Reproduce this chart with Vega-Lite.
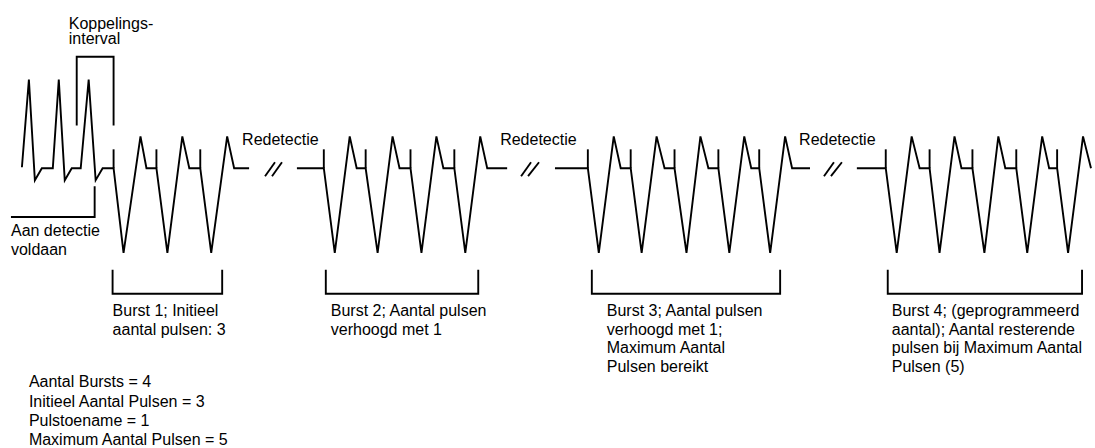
{
  "$schema": "https://vega.github.io/schema/vega-lite/v6.json",
  "width": 1095,
  "height": 448,
  "padding": 0,
  "autosize": {"type": "fit", "contains": "padding"},
  "background": "white",
  "config": {"view": {"stroke": null}},
  "datasets": {
    "lines": [
      {"s": "A", "i": 1, "x": 22, "y": 168}, {"s": "A", "i": 2, "x": 29, "y": 80}, {"s": "A", "i": 3, "x": 35, "y": 181}, {"s": "A", "i": 4, "x": 42, "y": 169},
      {"s": "A", "i": 5, "x": 53, "y": 169}, {"s": "A", "i": 6, "x": 59, "y": 80}, {"s": "A", "i": 7, "x": 65, "y": 181}, {"s": "A", "i": 8, "x": 72, "y": 169},
      {"s": "A", "i": 9, "x": 81, "y": 169}, {"s": "A", "i": 10, "x": 89, "y": 80}, {"s": "A", "i": 11, "x": 96, "y": 181}, {"s": "A", "i": 12, "x": 103, "y": 169},
      {"s": "A", "i": 13, "x": 114, "y": 169}, {"s": "A", "i": 14, "x": 124, "y": 254}, {"s": "A", "i": 15, "x": 141, "y": 137}, {"s": "A", "i": 16, "x": 147, "y": 169},
      {"s": "A", "i": 17, "x": 157, "y": 169}, {"s": "A", "i": 18, "x": 168, "y": 254}, {"s": "A", "i": 19, "x": 183, "y": 137}, {"s": "A", "i": 20, "x": 190, "y": 169},
      {"s": "A", "i": 21, "x": 201, "y": 169}, {"s": "A", "i": 22, "x": 212, "y": 254}, {"s": "A", "i": 23, "x": 228, "y": 137}, {"s": "A", "i": 24, "x": 235, "y": 169},
      {"s": "A", "i": 25, "x": 250, "y": 169},

      {"s": "B", "i": 1, "x": 298, "y": 169}, {"s": "B", "i": 2, "x": 325, "y": 169}, {"s": "B", "i": 3, "x": 336, "y": 254}, {"s": "B", "i": 4, "x": 351, "y": 137},
      {"s": "B", "i": 5, "x": 358, "y": 169}, {"s": "B", "i": 6, "x": 367, "y": 169}, {"s": "B", "i": 7, "x": 379, "y": 254}, {"s": "B", "i": 8, "x": 394, "y": 137},
      {"s": "B", "i": 9, "x": 401, "y": 169}, {"s": "B", "i": 10, "x": 412, "y": 169}, {"s": "B", "i": 11, "x": 423, "y": 254}, {"s": "B", "i": 12, "x": 438, "y": 137},
      {"s": "B", "i": 13, "x": 445, "y": 169}, {"s": "B", "i": 14, "x": 456, "y": 169}, {"s": "B", "i": 15, "x": 467, "y": 254}, {"s": "B", "i": 16, "x": 482, "y": 137},
      {"s": "B", "i": 17, "x": 489, "y": 169}, {"s": "B", "i": 18, "x": 509, "y": 169},

      {"s": "C", "i": 1, "x": 557, "y": 169}, {"s": "C", "i": 2, "x": 590, "y": 169}, {"s": "C", "i": 3, "x": 601, "y": 254}, {"s": "C", "i": 4, "x": 616, "y": 137},
      {"s": "C", "i": 5, "x": 623, "y": 169}, {"s": "C", "i": 6, "x": 633, "y": 169}, {"s": "C", "i": 7, "x": 644, "y": 254}, {"s": "C", "i": 8, "x": 659, "y": 137},
      {"s": "C", "i": 9, "x": 667, "y": 169}, {"s": "C", "i": 10, "x": 677, "y": 169}, {"s": "C", "i": 11, "x": 689, "y": 254}, {"s": "C", "i": 12, "x": 703, "y": 137},
      {"s": "C", "i": 13, "x": 711, "y": 169}, {"s": "C", "i": 14, "x": 721, "y": 169}, {"s": "C", "i": 15, "x": 732, "y": 254}, {"s": "C", "i": 16, "x": 747, "y": 137},
      {"s": "C", "i": 17, "x": 754, "y": 169}, {"s": "C", "i": 18, "x": 762, "y": 169}, {"s": "C", "i": 19, "x": 773, "y": 254}, {"s": "C", "i": 20, "x": 788, "y": 137},
      {"s": "C", "i": 21, "x": 795, "y": 169}, {"s": "C", "i": 22, "x": 813, "y": 169},

      {"s": "D", "i": 1, "x": 860, "y": 169}, {"s": "D", "i": 2, "x": 889, "y": 169}, {"s": "D", "i": 3, "x": 900, "y": 254}, {"s": "D", "i": 4, "x": 915, "y": 137},
      {"s": "D", "i": 5, "x": 923, "y": 169}, {"s": "D", "i": 6, "x": 933, "y": 169}, {"s": "D", "i": 7, "x": 943, "y": 254}, {"s": "D", "i": 8, "x": 958, "y": 137},
      {"s": "D", "i": 9, "x": 965, "y": 169}, {"s": "D", "i": 10, "x": 976, "y": 169}, {"s": "D", "i": 11, "x": 988, "y": 254}, {"s": "D", "i": 12, "x": 1002, "y": 137},
      {"s": "D", "i": 13, "x": 1009, "y": 169}, {"s": "D", "i": 14, "x": 1020, "y": 169}, {"s": "D", "i": 15, "x": 1031, "y": 254}, {"s": "D", "i": 16, "x": 1046, "y": 137},
      {"s": "D", "i": 17, "x": 1053, "y": 169}, {"s": "D", "i": 18, "x": 1061, "y": 169}, {"s": "D", "i": 19, "x": 1072, "y": 254}, {"s": "D", "i": 20, "x": 1087, "y": 137},
      {"s": "D", "i": 21, "x": 1095, "y": 169},

      {"s": "k1", "i": 1, "x": 114, "y": 150}, {"s": "k1", "i": 2, "x": 114, "y": 169},
      {"s": "k2", "i": 1, "x": 157, "y": 150}, {"s": "k2", "i": 2, "x": 157, "y": 169},
      {"s": "k3", "i": 1, "x": 201, "y": 150}, {"s": "k3", "i": 2, "x": 201, "y": 169},
      {"s": "k4", "i": 1, "x": 325, "y": 150}, {"s": "k4", "i": 2, "x": 325, "y": 169},
      {"s": "k5", "i": 1, "x": 367, "y": 150}, {"s": "k5", "i": 2, "x": 367, "y": 169},
      {"s": "k6", "i": 1, "x": 412, "y": 150}, {"s": "k6", "i": 2, "x": 412, "y": 169},
      {"s": "k7", "i": 1, "x": 456, "y": 150}, {"s": "k7", "i": 2, "x": 456, "y": 169},
      {"s": "k8", "i": 1, "x": 590, "y": 150}, {"s": "k8", "i": 2, "x": 590, "y": 169},
      {"s": "k9", "i": 1, "x": 633, "y": 150}, {"s": "k9", "i": 2, "x": 633, "y": 169},
      {"s": "k10", "i": 1, "x": 677, "y": 150}, {"s": "k10", "i": 2, "x": 677, "y": 169},
      {"s": "k11", "i": 1, "x": 721, "y": 150}, {"s": "k11", "i": 2, "x": 721, "y": 169},
      {"s": "k12", "i": 1, "x": 762, "y": 150}, {"s": "k12", "i": 2, "x": 762, "y": 169},
      {"s": "k13", "i": 1, "x": 889, "y": 150}, {"s": "k13", "i": 2, "x": 889, "y": 169},
      {"s": "k14", "i": 1, "x": 933, "y": 150}, {"s": "k14", "i": 2, "x": 933, "y": 169},
      {"s": "k15", "i": 1, "x": 976, "y": 150}, {"s": "k15", "i": 2, "x": 976, "y": 169},
      {"s": "k16", "i": 1, "x": 1020, "y": 150}, {"s": "k16", "i": 2, "x": 1020, "y": 169},
      {"s": "k17", "i": 1, "x": 1061, "y": 150}, {"s": "k17", "i": 2, "x": 1061, "y": 169},

      {"s": "z1a", "i": 1, "x": 266, "y": 177}, {"s": "z1a", "i": 2, "x": 276, "y": 163},
      {"s": "z1b", "i": 1, "x": 273, "y": 177}, {"s": "z1b", "i": 2, "x": 283, "y": 163},
      {"s": "z2a", "i": 1, "x": 523, "y": 177}, {"s": "z2a", "i": 2, "x": 533, "y": 163},
      {"s": "z2b", "i": 1, "x": 530, "y": 177}, {"s": "z2b", "i": 2, "x": 541, "y": 163},
      {"s": "z3a", "i": 1, "x": 827, "y": 177}, {"s": "z3a", "i": 2, "x": 837, "y": 163},
      {"s": "z3b", "i": 1, "x": 834, "y": 177}, {"s": "z3b", "i": 2, "x": 845, "y": 163},

      {"s": "br0", "i": 1, "x": 77, "y": 126}, {"s": "br0", "i": 2, "x": 77, "y": 57}, {"s": "br0", "i": 3, "x": 114, "y": 57}, {"s": "br0", "i": 4, "x": 114, "y": 126},
      {"s": "brd", "i": 1, "x": 95, "y": 187}, {"s": "brd", "i": 2, "x": 95, "y": 218}, {"s": "brd", "i": 3, "x": 11, "y": 218},
      {"s": "br1", "i": 1, "x": 113, "y": 271}, {"s": "br1", "i": 2, "x": 113, "y": 295}, {"s": "br1", "i": 3, "x": 223, "y": 295}, {"s": "br1", "i": 4, "x": 223, "y": 271},
      {"s": "br2", "i": 1, "x": 327, "y": 271}, {"s": "br2", "i": 2, "x": 327, "y": 295}, {"s": "br2", "i": 3, "x": 480, "y": 295}, {"s": "br2", "i": 4, "x": 480, "y": 271},
      {"s": "br3", "i": 1, "x": 594, "y": 271}, {"s": "br3", "i": 2, "x": 594, "y": 295}, {"s": "br3", "i": 3, "x": 783, "y": 295}, {"s": "br3", "i": 4, "x": 783, "y": 271},
      {"s": "br4", "i": 1, "x": 891, "y": 271}, {"s": "br4", "i": 2, "x": 891, "y": 295}, {"s": "br4", "i": 3, "x": 1086, "y": 295}, {"s": "br4", "i": 4, "x": 1086, "y": 271}
    ],
    "labels": [
      {"t": "Koppelings-", "x": 69, "y": 29},
      {"t": "interval", "x": 69, "y": 44},
      {"t": "Aan detectie", "x": 11, "y": 237},
      {"t": "voldaan", "x": 11, "y": 256},
      {"t": "Redetectie", "x": 243, "y": 146},
      {"t": "Redetectie", "x": 502, "y": 146},
      {"t": "Redetectie", "x": 802, "y": 146},
      {"t": "Burst 1; Initieel", "x": 113, "y": 317},
      {"t": "aantal pulsen: 3", "x": 113, "y": 336},
      {"t": "Burst 2; Aantal pulsen", "x": 332, "y": 317},
      {"t": "verhoogd met 1", "x": 332, "y": 336},
      {"t": "Burst 3; Aantal pulsen", "x": 609, "y": 317},
      {"t": "verhoogd met 1;", "x": 609, "y": 336},
      {"t": "Maximum Aantal", "x": 609, "y": 355},
      {"t": "Pulsen bereikt", "x": 609, "y": 374},
      {"t": "Burst 4; (geprogrammeerd", "x": 895, "y": 317},
      {"t": "aantal); Aantal resterende", "x": 895, "y": 336},
      {"t": "pulsen bij Maximum Aantal", "x": 895, "y": 355},
      {"t": "Pulsen (5)", "x": 895, "y": 374},
      {"t": "Aantal Bursts = 4", "x": 29, "y": 389},
      {"t": "Initieel Aantal Pulsen = 3", "x": 29, "y": 409},
      {"t": "Pulstoename = 1", "x": 29, "y": 428},
      {"t": "Maximum Aantal Pulsen = 5", "x": 29, "y": 447}
    ]
  },
  "layer": [
    {
      "data": {"name": "lines"},
      "mark": {"type": "line", "color": "black", "strokeWidth": 1.9, "strokeJoin": "miter", "strokeCap": "butt"},
      "encoding": {
        "x": {"field": "x", "type": "quantitative", "scale": {"domain": [0, 1095], "nice": false, "zero": false}, "axis": null},
        "y": {"field": "y", "type": "quantitative", "scale": {"domain": [0, 448], "nice": false, "zero": false, "reverse": true}, "axis": null},
        "detail": {"field": "s", "type": "nominal"},
        "order": {"field": "i", "type": "quantitative"}
      }
    },
    {
      "data": {"name": "labels"},
      "mark": {"type": "text", "align": "left", "baseline": "alphabetic", "font": "Liberation Sans", "fontSize": 16, "color": "black"},
      "encoding": {
        "x": {"field": "x", "type": "quantitative"},
        "y": {"field": "y", "type": "quantitative"},
        "text": {"field": "t", "type": "nominal"}
      }
    }
  ]
}
